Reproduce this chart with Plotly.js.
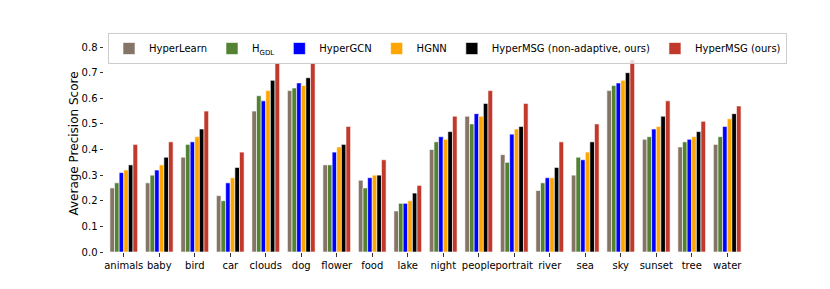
<!DOCTYPE html>
<html>
<head>
<meta charset="utf-8">
<script src="https://cdn.plot.ly/plotly-3.0.1.min.js"></script>
<style>html,body{margin:0;padding:0;background:#fff;}#chart{width:830px;height:289px;}</style>
</head>
<body>
<div id="chart"></div>
<script>
const categories = ["animals","baby","bird","car","clouds","dog","flower","food","lake","night","people","portrait","river","sea","sky","sunset","tree","water"];
const seriesNames = ["HyperLearn","H<sub>GDL</sub>","HyperGCN","HGNN","HyperMSG (non-adaptive, ours)","HyperMSG (ours)"];
const hyperLearn = [0.25,0.27,0.37,0.22,0.55,0.63,0.34,0.28,0.16,0.40,0.53,0.38,0.24,0.30,0.63,0.44,0.41,0.42];
const hgdl       = [0.27,0.30,0.42,0.20,0.61,0.64,0.34,0.25,0.19,0.43,0.50,0.35,0.27,0.37,0.65,0.45,0.43,0.45];
const hyperGCN   = [0.31,0.32,0.43,0.27,0.59,0.66,0.39,0.29,0.19,0.45,0.54,0.46,0.29,0.36,0.66,0.48,0.44,0.49];
const hgnn       = [0.32,0.34,0.45,0.29,0.63,0.65,0.41,0.30,0.20,0.44,0.53,0.48,0.29,0.39,0.67,0.49,0.45,0.52];
const msgNonAd   = [0.34,0.37,0.48,0.33,0.67,0.68,0.42,0.30,0.23,0.47,0.58,0.49,0.33,0.43,0.70,0.53,0.47,0.54];
const msgOurs    = [0.42,0.43,0.55,0.39,0.74,0.74,0.49,0.36,0.26,0.53,0.63,0.58,0.43,0.50,0.75,0.59,0.51,0.57];
const seriesValues = [hyperLearn,hgdl,hyperGCN,hgnn,msgNonAd,msgOurs];
const colors = ["#857566","#538233","#0000ff","#ffa500","#000000","#c0392b"];
const yTicks = [0,0.1,0.2,0.3,0.4,0.5,0.6,0.7,0.8];

const w = 0.13;
const traces = seriesValues.map((vals, k) => ({
  type: 'bar',
  x: categories,
  y: vals,
  name: seriesNames[k],
  width: w,
  offset: (k - 3) * w,
  marker: {color: colors[k], line: {color: '#ffffff', width: 0.6}},
  hoverinfo: 'y'
}));

// plot area: x 104..747 (643 px), y 35..252
const L = 104, R = 20, plotW = 830 - L - R;
const T = 35, B = 37, plotH = 289 - T - B;
const layout = {
  width: 830, height: 289,
  margin: {l: L, r: R, t: T, b: B, autoexpand: false},
  paper_bgcolor: '#ffffff', plot_bgcolor: '#ffffff',
  barmode: 'overlay',
  font: {family: 'DejaVu Sans', size: 10, color: '#000'},
  xaxis: {
    type: 'category', range: [-0.557, 17.557],
    domain: [0, 643 / plotW],
    showgrid: false, zeroline: false, showline: false,
    tickangle: 0,
    ticks: 'outside', ticklen: 3.5, tickwidth: 0.8, tickcolor: '#000',
    tickfont: {family: 'DejaVu Sans', size: 10, color: '#000'}
  },
  yaxis: {
    range: [0, 0.847],
    tickvals: yTicks, ticktext: yTicks.map(v => v.toFixed(1)),
    showgrid: false, zeroline: false, showline: false,
    ticks: 'outside', ticklen: 3.5, tickwidth: 0.8, tickcolor: '#000',
    tickfont: {family: 'DejaVu Sans', size: 10, color: '#000'},
    title: {text: 'Average Precision Score', font: {family: 'DejaVu Sans', size: 12, color: '#000'}, standoff: 0}
  },
  legend: {
    orientation: 'h', x: 4 / plotW, y: (252 - 33) / plotH, xanchor: 'left', yanchor: 'top',
    bgcolor: 'rgba(255,255,255,0.8)', bordercolor: '#cccccc', borderwidth: 1,
    font: {family: 'DejaVu Sans', size: 10, color: '#000'},
    traceorder: 'normal', itemwidth: 30
  },
  showlegend: true
};

Plotly.newPlot('chart', traces, layout, {displayModeBar: false, staticPlot: true});
</script>
</body>
</html>
